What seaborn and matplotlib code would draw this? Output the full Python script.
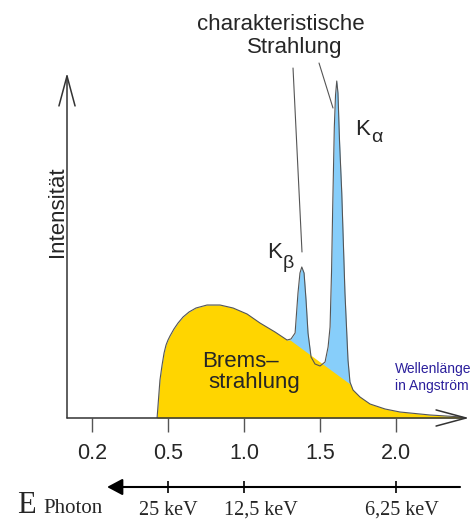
import numpy as np
import seaborn as sns
import matplotlib.pyplot as plt

sns.set_style("white")
plt.rcParams["font.family"] = ["Liberation Sans", "DejaVu Sans"]

DPI = 100
FIGSIZE = (4.77, 5.2)
YELLOW = "#ffd500"
BLUE = "#87cefa"
EDGE = "#555555"
AXIS = "#333333"

# wavelength axis (positions on the drawn scale) and labels
tick_pos = [0.0, 0.5, 1.0, 1.5, 2.0]
tick_labels = ["0.2", "0.5", "1.0", "1.5", "2.0"]

# photon energy marks below
energy_pos = [0.5, 1.0, 2.0]
energy_labels = ["25 keV", "12,5 keV", "6,25 keV"]

# full spectrum (bremsstrahlung + K lines)
lam_total = [0.428, 0.447, 0.461, 0.474, 0.487, 0.500, 0.513, 0.539, 0.566, 0.599,
             0.638, 0.684, 0.757, 0.842, 0.928, 1.020, 1.105, 1.204, 1.283, 1.309,
             1.336, 1.355, 1.368, 1.380, 1.395, 1.408, 1.421, 1.441, 1.467, 1.500,
             1.533, 1.553, 1.566, 1.576, 1.583, 1.594, 1.602, 1.610, 1.618, 1.628,
             1.643, 1.664, 1.684, 1.697, 1.717, 1.763, 1.829, 1.928, 2.026, 2.224,
             2.434]
int_total = [0.00, 0.38, 0.53, 0.65, 0.73, 0.78, 0.82, 0.89, 0.95, 1.01,
             1.06, 1.10, 1.13, 1.13, 1.10, 1.04, 0.95, 0.86, 0.78, 0.79,
             0.85, 1.25, 1.45, 1.51, 1.45, 1.18, 0.85, 0.61, 0.54, 0.52,
             0.56, 0.71, 0.91, 1.48, 2.08, 2.91, 3.23, 3.37, 3.25, 2.78,
             2.25, 1.25, 0.58, 0.36, 0.28, 0.21, 0.14, 0.09, 0.06, 0.03,
             0.01]

# continuous part only
lam_brems = [0.428, 0.447, 0.461, 0.474, 0.487, 0.500, 0.513, 0.539, 0.566, 0.599,
             0.638, 0.684, 0.757, 0.842, 0.928, 1.020, 1.105, 1.204, 1.283, 1.303,
             1.697, 1.717, 1.763, 1.829, 1.928, 2.026, 2.224, 2.434]
int_brems = [0.00, 0.38, 0.53, 0.65, 0.73, 0.78, 0.82, 0.89, 0.95, 1.01,
             1.06, 1.10, 1.13, 1.13, 1.10, 1.04, 0.95, 0.86, 0.78, 0.78,
             0.34, 0.28, 0.21, 0.14, 0.09, 0.06, 0.03, 0.01]

fig = plt.figure(figsize=FIGSIZE, dpi=DPI)
ax = fig.add_axes([67 / 477, 102 / 520, 402 / 477, 345 / 520])
ax.set_xlim(-0.1645, 2.480)
ax.set_ylim(0, 3.45)

ax.fill_between(lam_total, int_total, color=BLUE, lw=0)
ax.fill_between(lam_brems, int_brems, color=YELLOW, lw=0)
sns.lineplot(x=lam_total, y=int_total, ax=ax, color=EDGE, lw=0.8,
             sort=False, estimator=None)

for s in ax.spines.values():
    s.set_visible(False)
ax.set_xticks(tick_pos)
ax.set_xticklabels(tick_labels, fontsize=15.5)
ax.set_yticks([])
ax.tick_params(axis="x", bottom=True, direction="out", length=10, width=1,
               color=EDGE, pad=8)

arrow_open = dict(arrowstyle="->,head_length=2.16,head_width=0.58", lw=1.1,
                  color=AXIS, shrinkA=0, shrinkB=0, mutation_scale=10)
ax.annotate("", xy=(0, 1), xytext=(0, 0), xycoords="axes fraction",
            arrowprops=arrow_open)
ax.annotate("", xy=(1, 0), xytext=(0, 0), xycoords="axes fraction",
            arrowprops=arrow_open)

# labels
fig.text(0.1195, 0.5923, "Intensität", rotation=90, ha="center", va="center", fontsize=16)
fig.text(0.589, 0.9423, "charakteristische", ha="center", va="baseline", fontsize=16)
fig.text(0.618, 0.898, "Strahlung", ha="center", va="baseline", fontsize=16)
fig.text(0.7442, 0.7404, "K", ha="left", va="baseline", fontsize=16)
fig.text(0.7778, 0.7269, "α", ha="left", va="baseline", fontsize=14)
fig.text(0.5597, 0.5038, "K", ha="left", va="baseline", fontsize=16)
fig.text(0.5933, 0.4846, "β", ha="left", va="baseline", fontsize=14)
fig.text(0.4235, 0.2942, "Brems–", ha="left", va="baseline", fontsize=16)
fig.text(0.4361, 0.2538, "strahlung", ha="left", va="baseline", fontsize=16)
fig.text(0.8281, 0.2827, "Wellenlänge", ha="left", va="baseline", fontsize=10,
         color="#2b1f9c")
fig.text(0.8281, 0.2500, "in Angström", ha="left", va="baseline", fontsize=10,
         color="#2b1f9c")

# leader lines to the K lines
for (x0, y0), (x1, y1) in [((0.6143, 0.8692), (0.6331, 0.5154)),
                           ((0.6688, 0.8788), (0.6981, 0.7923))]:
    fig.add_artist(plt.Line2D([x0, x1], [y0, y1], color=EDGE, lw=0.8))

# photon energy scale
ax2 = fig.add_axes([67 / 477, 33 / 520, 402 / 477, 0.02])
ax2.set_xlim(ax.get_xlim())
ax2.set_ylim(0, 1)
ax2.patch.set_visible(False)
for s in ax2.spines.values():
    s.set_visible(False)
ax2.set_yticks([])
ax2.set_xticks(energy_pos)
ax2.set_xticklabels([])
ax2.tick_params(axis="x", bottom=True, direction="inout", length=8, width=1.2,
                color="black")
ax2.annotate("", xy=(0.099, 0), xytext=(2.421, 0),
             arrowprops=dict(arrowstyle="-|>,head_length=0.94,head_width=0.5",
                             lw=1.5, color="black", shrinkA=0, shrinkB=0,
                             mutation_scale=10))
for pos, lab, dx in zip(energy_pos, energy_labels, [0, 12, 4]):
    ax2.annotate(lab, xy=(pos, 0), xytext=(dx, -20), textcoords="offset points",
                 ha="center", va="baseline", fontsize=14.5, family="Liberation Serif")
fig.text(0.0356, 0.0135, "E", ha="left", va="baseline", fontsize=22,
         family="Liberation Serif")
fig.text(0.0901, 0.0135, "Photon", ha="left", va="baseline", fontsize=15,
         family="Liberation Serif")

fig.savefig("out.png", dpi=DPI)
